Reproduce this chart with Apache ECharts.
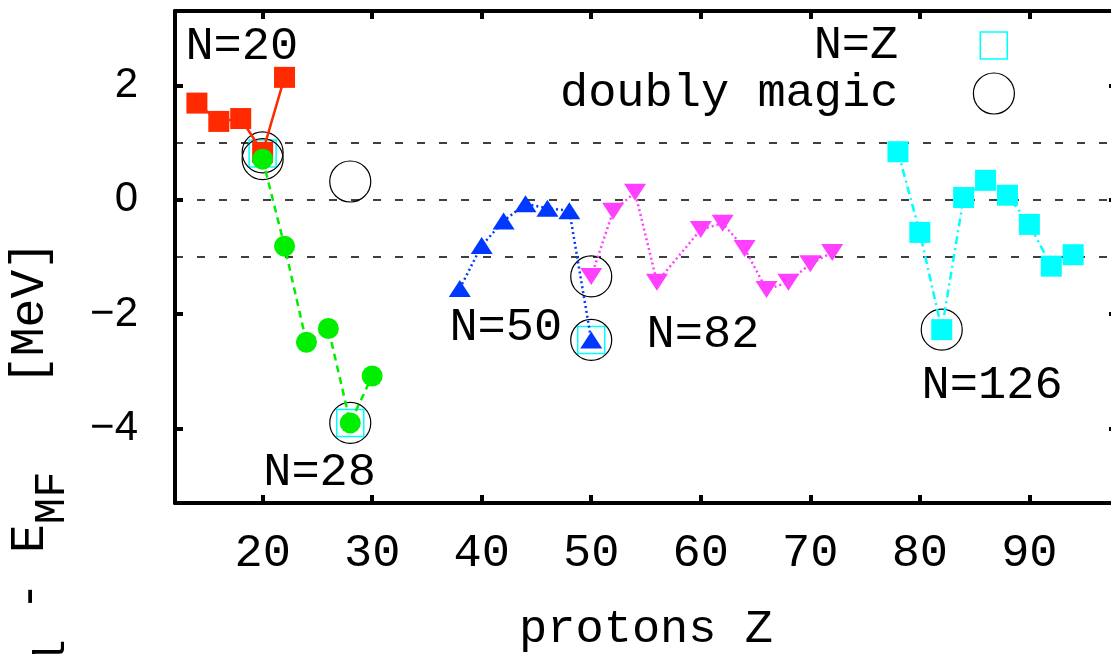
<!DOCTYPE html>
<html>
<head>
<meta charset="utf-8">
<title>E - E_MF vs protons Z</title>
<script src="https://cdn.jsdelivr.net/npm/echarts@6/dist/echarts.min.js"></script>
<style>
    html, body { margin: 0; padding: 0; background: #fff; }
    #main { width: 1111px; height: 654px; }
</style>
</head>
<body>
<div id="main"></div>
<script>
// chains of constant N : proton number Z and energy difference [MeV]
var zN20 = [14, 16, 18, 20, 22];
var eN20 = [1.69, 1.37, 1.42, 0.83, 2.14];
var zN28 = [20, 22, 24, 26, 28, 30];
var eN28 = [0.71, -0.81, -2.49, -2.25, -3.90, -3.08];
var zN50 = [38, 40, 42, 44, 46, 48, 50];
var eN50 = [-1.55, -0.80, -0.37, -0.07, -0.15, -0.19, -2.45];
var zN82 = [50, 52, 54, 56, 60, 62, 64, 66, 68, 70, 72];
var eN82 = [-1.34, -0.20, 0.13, -1.44, -0.52, -0.41, -0.85, -1.57, -1.44, -1.12, -0.92];
var zN126 = [78, 80, 82, 84, 86, 88, 90, 92, 94];
var eN126 = [0.84, -0.57, -2.27, 0.04, 0.34, 0.08, -0.43, -1.16, -0.96];

// N=Z nuclei and doubly magic nuclei
var zNZ = [20, 28, 50];
var eNZ = [0.81, -3.90, -2.45];
var zMagic = [20, 20, 28, 28, 50, 50, 82];
var eMagic = [0.83, 0.71, 0.32, -3.90, -1.34, -2.45, -2.27];

// dashed reference levels
var refLevels = [1, 0, -1];

// tick labels
var xTicks = [20, 30, 40, 50, 60, 70, 80, 90];
var yTicks = [-4, -2, 0, 2];

// chain labels
var noteText = ['N=20', 'N=28', 'N=50', 'N=82', 'N=126'];
var noteZ = [18.1, 25.2, 42.2, 60.2, 86.6];
var noteE = [2.68, -4.76, -2.23, -2.35, -3.24];

var MONO = 'Liberation Mono';

function pairs(xs, ys) {
    return xs.map(function (x, i) { return [x, ys[i]]; });
}

function chain(name, zs, es, color, symbol, size, rotate, lineType) {
    return {
        name: name,
        type: 'line',
        data: pairs(zs, es),
        symbol: symbol,
        symbolSize: size,
        symbolRotate: rotate,
        showAllSymbol: true,
        itemStyle: { color: color },
        lineStyle: { color: color, width: 2.5, type: lineType },
        emphasis: { disabled: true }
    };
}

var chart = echarts.init(document.getElementById('main'));

var axisLineStyle = { show: true, onZero: false, lineStyle: { color: '#000', width: 4 } };

var option = {
    animation: false,
    backgroundColor: '#fff',
    grid: { left: 175, right: -6, top: 11, bottom: 151, containLabel: false, outerBoundsMode: 'none' },
    xAxis: [{
        type: 'value', min: 12, max: 98, position: 'bottom',
        axisLine: axisLineStyle,
        axisTick: { inside: true, length: 8, customValues: xTicks, lineStyle: { width: 4, color: '#000' } },
        axisLabel: { customValues: xTicks, margin: 27, fontFamily: MONO, fontSize: 47, color: '#000' },
        splitLine: { show: false },
        name: 'protons Z', nameLocation: 'middle', nameGap: 103,
        nameTextStyle: { fontFamily: MONO, fontSize: 47, color: '#000' }
    }, {
        type: 'value', min: 12, max: 98, position: 'top',
        axisLine: axisLineStyle,
        axisTick: { inside: true, length: 8, customValues: xTicks, lineStyle: { width: 4, color: '#000' } },
        axisLabel: { show: false },
        splitLine: { show: false }
    }],
    yAxis: [{
        type: 'value', min: -5.3, max: 3.3, position: 'left',
        axisLine: axisLineStyle,
        axisTick: { inside: true, length: 8, customValues: yTicks, lineStyle: { width: 4, color: '#000' } },
        axisLabel: {
            customValues: yTicks, margin: 37, fontFamily: 'Liberation Sans', fontSize: 42, color: '#000',
            formatter: function (v) { return v < 0 ? '\u2212' + Math.abs(v) : String(v); }
        },
        splitLine: { show: false }
    }, {
        type: 'value', min: -5.3, max: 3.3, position: 'right',
        axisLine: axisLineStyle,
        axisTick: { inside: true, length: 8, customValues: yTicks, lineStyle: { width: 4, color: '#000' } },
        axisLabel: { show: false },
        splitLine: { show: false }
    }],
    legend: [{
        data: [{ name: 'N=Z', icon: 'rect', itemStyle: { color: 'rgba(0,0,0,0)', borderColor: '#00ffff', borderWidth: 1.5, opacity: 1 } }],
        orient: 'vertical', align: 'right', right: 103, top: 22, padding: 0,
        itemWidth: 27, itemHeight: 27, selectedMode: false,
        textStyle: { fontFamily: MONO, fontSize: 47, lineHeight: 47, color: '#000', opacity: 1, padding: [0, 77, 0, 0] }
    }, {
        data: [{ name: 'doubly magic', icon: 'circle', itemStyle: { color: 'rgba(0,0,0,0)', borderColor: '#000', borderWidth: 1.2, opacity: 1 } }],
        orient: 'vertical', align: 'right', right: 96, top: 70, padding: 0,
        itemWidth: 41, itemHeight: 41, selectedMode: false,
        textStyle: { fontFamily: MONO, fontSize: 47, lineHeight: 47, color: '#000', opacity: 1, padding: [0, 70, 0, 0] }
    }],
    graphic: [{
        type: 'text',
        x: 6, y: 241,
        rotation: Math.PI / 2,
        style: {
            text: '{m|E}{s|full}{m| - E}{s|MF}{m|   [MeV]}',
            align: 'right',
            verticalAlign: 'top',
            rich: {
                m: { fontFamily: MONO, fontSize: 48, lineHeight: 48, verticalAlign: 'top', fill: '#000' },
                s: { fontFamily: MONO, fontSize: 44, lineHeight: 44, verticalAlign: 'top', padding: [24, 0, 0, 0], fill: '#000' }
            }
        }
    }],
    series: [
        {
            name: 'ref', type: 'line', data: [], silent: true,
            markLine: {
                silent: true, symbol: 'none', z: 1, label: { show: false },
                lineStyle: { color: '#000', width: 1.6, type: [8, 14] },
                data: refLevels.map(function (v) { return { yAxis: v }; })
            }
        },
        chain('N=20', zN20, eN20, '#ff2a00', 'rect', 21, 0, 'solid'),
        chain('N=28', zN28, eN28, '#00ee00', 'circle', 21, 0, [7, 5]),
        chain('N=50', zN50, eN50, '#0038ff', 'triangle', [22, 17], 0, [2, 3]),
        chain('N=82', zN82, eN82, '#ff40ff', 'triangle', [22, 17], 180, [2, 3]),
        chain('N=126', zN126, eN126, '#00ffff', 'rect', 21, 0, [8, 4, 2, 4]),
        {
            name: 'N=Z', type: 'scatter', data: pairs(zNZ, eNZ),
            symbol: 'rect', symbolSize: 27,
            itemStyle: { color: 'rgba(0,0,0,0)', borderColor: '#00ffff', borderWidth: 1.5, opacity: 1 },
            emphasis: { disabled: true }
        },
        {
            name: 'doubly magic', type: 'scatter', data: pairs(zMagic, eMagic),
            symbol: 'circle', symbolSize: 41,
            itemStyle: { color: 'rgba(0,0,0,0)', borderColor: '#000', borderWidth: 1.2, opacity: 1 },
            emphasis: { disabled: true }
        },
        {
            name: 'notes', type: 'scatter', silent: true,
            data: noteText.map(function (t, i) { return { name: t, value: [noteZ[i], noteE[i]] }; }),
            symbolSize: 1,
            itemStyle: { color: 'rgba(0,0,0,0)', opacity: 1 },
            label: {
                show: true, position: 'inside', formatter: '{b}', fontFamily: MONO, fontSize: 47,
                color: '#000', opacity: 1, textBorderWidth: 0
            }
        }
    ]
};

chart.setOption(option);
</script>
</body>
</html>
